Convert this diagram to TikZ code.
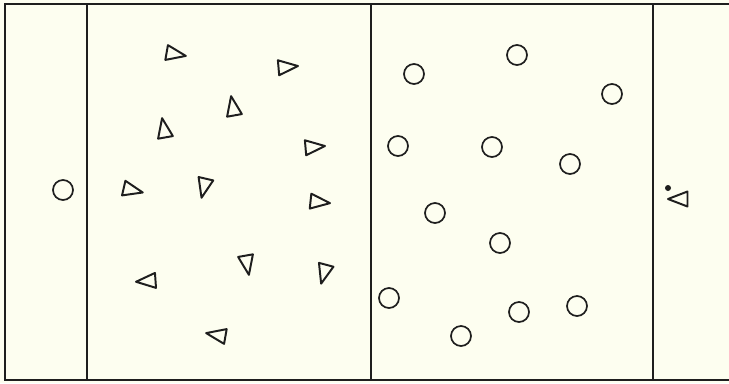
\documentclass[tikz,border=0pt]{standalone}
\usepackage{tikz}
\usetikzlibrary{positioning}
\usepackage{xcolor}
\definecolor{paper}{RGB}{253,254,240}
\definecolor{ink}{RGB}{30,30,30}

\tikzset{
  ring/.style={draw=ink, circle, line width=1.2pt, minimum size=0.5cm, inner sep=0pt},
  tri/.pic={\draw[ink, line width=1.4pt, line join=round] (11,0) -- (-8.5,7.5) -- (-8.5,-7.5) -- cycle;}
}

\begin{document}
\begin{tikzpicture}[x=0.025cm, y=-0.025cm]
    \useasboundingbox (0,0) rectangle (729,383);
    \fill[paper] (0,0) rectangle (729,383);

    % Frame and strips
    \draw[ink, line width=1.3pt] (729,4) -- (5,4) -- (5,380) -- (729,380);
    \draw[ink, line width=1.3pt] (87,4) -- (87,380);
    \draw[ink, line width=1.3pt] (371,4) -- (371,380);
    \draw[ink, line width=1.3pt] (653,4) -- (653,380);

    % Left strip
    \node[ring] (c0) at (63,190) {};

    % Triangles
    \pic[rotate=-10] at (175,54) {tri};
    \pic[rotate=5] at (287,67) {tri};
    \pic[rotate=100] at (233,107) {tri};
    \pic[rotate=100] at (164,129) {tri};
    \pic[rotate=5] at (314,147) {tri};
    \pic[rotate=-13] at (132,190) {tri};
    \pic[rotate=-103] at (204,187) {tri};
    \pic[rotate=-6] at (319,202) {tri};
    \pic[rotate=-176] at (147,281) {tri};
    \pic[rotate=-80] at (247,264) {tri};
    \pic[rotate=-105] at (324,273) {tri};
    \pic[rotate=-190] at (217,335) {tri};

    % Circles
    \node[ring] (c1) at (414,74) {};
    \node[ring] (c2) at (517,55) {};
    \node[ring] (c3) at (612,94) {};
    \node[ring] (c4) at (398,146) {};
    \node[ring] (c5) at (492,147) {};
    \node[ring] (c6) at (570,164) {};
    \node[ring] (c7) at (435,213) {};
    \node[ring] (c8) at (500,243) {};
    \node[ring] (c9) at (389,298) {};
    \node[ring] (c10) at (461,336) {};
    \node[ring] (c11) at (519,312) {};
    \node[ring] (c12) at (577,306) {};

    % Right strip
    \fill[ink] (668,188) circle (3);
    \pic[rotate=180] at (679,199) {tri};
\end{tikzpicture}
\end{document}
